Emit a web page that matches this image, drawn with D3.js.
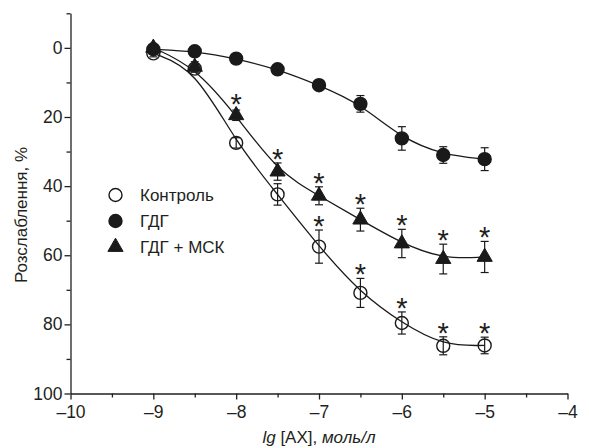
<!DOCTYPE html>
<html><head><meta charset="utf-8">
<script src="https://cdn.jsdelivr.net/npm/d3@7"></script>
<style>
body{margin:0;background:#fff}
text{font-family:"Liberation Sans",Arial,sans-serif;fill:#231f20}
</style>
</head><body><svg id="c" width="589" height="448"></svg>
<script>
const doses = [-9, -8.5, -8, -7.5, -7, -6.5, -6, -5.5, -5];
const controlValues = [1.6, 6, 27.5, 42.4, 57.5, 70.9, 79.6, 86.2, 86.1];
const controlErrors = [1, 1, 1.5, 3.1, 4.8, 4.2, 3.2, 2.6, 2.4];
const controlStars = [0, 0, 0, 0, 1, 1, 1, 1, 1];
const hdgValues = [0.4, 1.0, 3.1, 6.2, 10.8, 16.2, 26.2, 31.0, 32.2];
const hdgErrors = [0.5, 0.5, 0.8, 1, 1.5, 2.4, 3.4, 2.4, 3.3];
const hdgStars = [0, 0, 0, 0, 0, 0, 0, 0, 0];
const hdgMskValues = [0, 5.5, 19.5, 35.8, 42.8, 49.7, 56.6, 61.1, 60.5];
const hdgMskErrors = [0.8, 1.5, 1.5, 2.5, 2.6, 3.3, 4.1, 4.3, 4.5];
const hdgMskStars = [0, 0, 1, 1, 1, 1, 1, 1, 1];
const seriesNames = ["Контроль", "ГДГ", "ГДГ + МСК"];
const xTicks = [-10, -9, -8, -7, -6, -5, -4];
const xMinorTicks = [-9.5, -8.5, -7.5, -6.5, -5.5, -4.5];
const yTicks = [0, 20, 40, 60, 80, 100];
const yMinorTicks = [-10, 10, 30, 50, 70, 90];

const svg = d3.select("#c");
const x = d3.scaleLinear().domain([-10, -4]).range([70.5, 567.5]);
const y = d3.scaleLinear().domain([-10, 100]).range([13.3, 393.5]);

const fmt = d => d < 0 ? "\u2013" + Math.abs(d) : String(d);

// axes
const gy = svg.append("g").attr("transform", `translate(${x(-10)},0)`);
gy.call(d3.axisLeft(y).tickValues(yTicks).tickSize(6).tickSizeOuter(0).tickPadding(2).tickFormat(fmt));
const gym = svg.append("g").attr("transform", `translate(${x(-10)},0)`);
gym.call(d3.axisLeft(y).tickValues(yMinorTicks).tickSize(4).tickSizeOuter(0).tickFormat(""));
gym.select(".domain").remove();

const gx = svg.append("g").attr("transform", `translate(0,${y(100)})`);
gx.call(d3.axisBottom(x).tickValues(xTicks).tickSize(6).tickSizeOuter(0).tickPadding(6).tickFormat(fmt));
const gxm = svg.append("g").attr("transform", `translate(0,${y(100)})`);
gxm.call(d3.axisBottom(x).tickValues(xMinorTicks).tickSize(4).tickSizeOuter(0).tickFormat(""));
gxm.select(".domain").remove();

svg.selectAll(".domain, .tick line").attr("stroke", "#231f20").attr("stroke-width", 1.3);
svg.selectAll(".tick text").attr("font-size", 17.5).attr("font-family", "Liberation Sans, Arial, sans-serif").attr("fill", "#231f20");

// axis titles
svg.append("text").attr("transform", "translate(27,215) rotate(-90)")
  .attr("text-anchor", "middle").attr("font-size", 17).text("Розслаблення, %");
const xt = svg.append("text").attr("x", x(-7)).attr("y", 443).attr("text-anchor", "middle").attr("font-size", 17);
xt.append("tspan").attr("font-style", "italic").text("lg");
xt.append("tspan").text(" [AX], ");
xt.append("tspan").attr("font-style", "italic").text("моль/л");

const series = [
  {name: seriesNames[0], v: controlValues, e: controlErrors, s: controlStars, shape: "circle", fill: "none"},
  {name: seriesNames[1], v: hdgValues, e: hdgErrors, s: hdgStars, shape: "circle", fill: "#1a1a1a"},
  {name: seriesNames[2], v: hdgMskValues, e: hdgMskErrors, s: hdgMskStars, shape: "triangle", fill: "#1a1a1a"}
];

const line = d3.line().x(d => x(d[0])).y(d => y(d[1])).curve(d3.curveBasis);
const triPath = d3.symbol().type(d3.symbolTriangle).size(100)();

function drawMarker(g, shape, fill, cx, cy) {
  if (shape === "circle") {
    g.append("circle").attr("cx", cx).attr("cy", cy).attr("r", 6.5)
      .attr("fill", fill).attr("stroke", "#1a1a1a").attr("stroke-width", 1.4);
  } else {
    g.append("path").attr("d", triPath).attr("transform", `translate(${cx},${cy})`)
      .attr("fill", fill).attr("stroke", "#1a1a1a").attr("stroke-width", 1);
  }
}

// curves
series.forEach(s => {
  svg.append("path").datum(doses.map((d, i) => [d, s.v[i]]))
    .attr("d", line).attr("fill", "none").attr("stroke", "#1a1a1a").attr("stroke-width", 1.3);
});

// error bars, markers, stars
series.forEach(s => {
  const g = svg.append("g");
  doses.forEach((d, i) => {
    const cx = x(d), top = y(s.v[i] - s.e[i]), bot = y(s.v[i] + s.e[i]);
    g.append("line").attr("x1", cx).attr("x2", cx).attr("y1", top).attr("y2", bot)
      .attr("stroke", "#1a1a1a").attr("stroke-width", 1.2);
    [top, bot].forEach(yy => g.append("line").attr("x1", cx - 4).attr("x2", cx + 4)
      .attr("y1", yy).attr("y2", yy).attr("stroke", "#1a1a1a").attr("stroke-width", 1.2));
  });
  doses.forEach((d, i) => drawMarker(g, s.shape, s.fill, x(d), y(s.v[i])));
  doses.forEach((d, i) => {
    if (!s.s[i]) return;
    const markTop = y(s.v[i]) - 7;
    const starCenter = Math.min(y(s.v[i] - s.e[i]), markTop) - 10;
    g.append("text").attr("x", x(d)).attr("y", starCenter + 16).attr("text-anchor", "middle")
      .attr("font-size", 29).attr("fill", "#333").text("*");
  });
});

// legend
const leg = svg.append("g");
series.forEach((s, i) => {
  const cy = 195 + i * 26;
  drawMarker(leg, s.shape, s.fill, 115.5, cy);
  leg.append("text").attr("x", 140).attr("y", cy + 6).attr("font-size", 17).text(s.name);
});
</script></body></html>
